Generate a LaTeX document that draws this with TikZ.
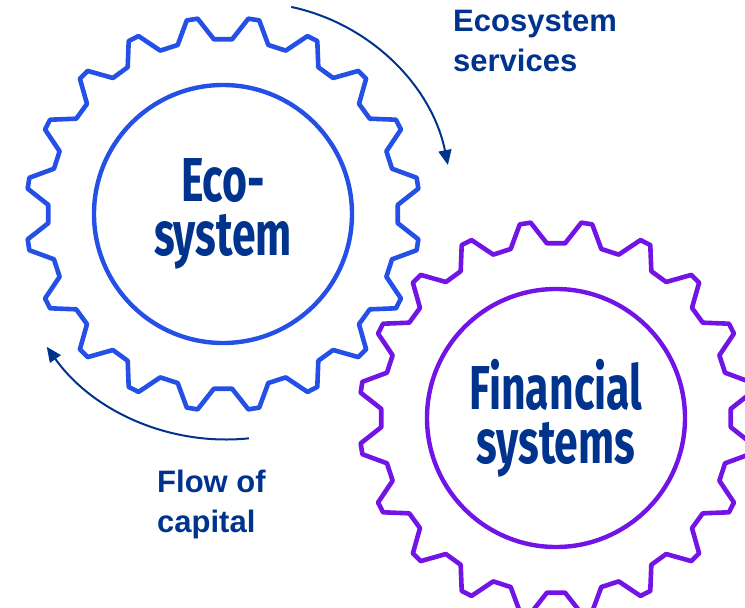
\documentclass[tikz,border=0pt]{standalone}
\usepackage{fontspec}
\setmainfont{Liberation Sans}
\newfontfamily\gearfont[FakeStretch=0.69]{Fira Sans}
\usepackage{xcolor}
\definecolor{Eco Blue}{HTML}{2450E6}
\definecolor{Fin Purple}{HTML}{7314E6}
\definecolor{Deep Navy}{HTML}{00338D}
\colorlet{cEco}{Eco Blue}
\colorlet{cFin}{Fin Purple}
\colorlet{cNavy}{Deep Navy}
\usepackage{tikz}
\usetikzlibrary{positioning, arrows.meta}
\tikzset{
	x = 1pt,
	y = 1pt,
	gear/.style={
		line width=4.6pt,
		line join=round
	},
	hub/.style={
		draw,
		circle,
		line width=4.4pt,
		minimum size=258pt,
		inner sep=0pt,
		align=center,
		text=cNavy,
		font=\gearfont\bfseries\fontsize{62}{54}\selectfont
	},
	flow/.style={
		-{Triangle[length=15pt, width=13pt]},
		line width=2pt,
		draw=cNavy
	},
	caption/.style={
		anchor=north west,
		inner sep=0pt,
		align=left,
		text=cNavy,
		font=\bfseries\fontsize{31}{39.5}\selectfont
	}
}

\begin{document}
\begin{tikzpicture}
		\clip (0,0) rectangle (745,-608);

		\node[hub, draw=cEco] (eco) at (223,-214) {Eco-\\system};
		\node[hub, draw=cFin, on grid, below right=204pt and 333pt of eco] (fin) {Financial\\systems};

		% teeth round each hub
		\draw[gear, draw=cEco, shift={(eco.center)}] (-3:175)
			\foreach \a in {9,27,...,351} { -- (\a-6:175) -- (\a-1.6:197) -- (\a+1.6:197) -- (\a+6:175) } -- cycle;
		\draw[gear, draw=cFin, shift={(fin.center)}] (-3:175)
			\foreach \a in {9,27,...,351} { -- (\a-6:175) -- (\a-1.6:197) -- (\a+1.6:197) -- (\a+6:175) } -- cycle;

		\node[caption] (services) at (453,-10) {Ecosystem\\services};
		\node[caption] (capital) at (157,-470) {Flow of\\capital};

		\coordinate (svc) at (249,-205.5);
		\coordinate (svc start) at ([shift={(78:203)}]svc);
		\coordinate (cap) at (226.3,-219.2);
		\coordinate (cap start) at ([shift={(275.9:220.3)}]cap);

		\draw[flow] (svc start) arc[start angle=78, end angle=11.5, radius=203];
		\draw[flow] (cap start) arc[start angle=275.9, end angle=215.4, radius=220.3];
	\end{tikzpicture}
\end{document}
